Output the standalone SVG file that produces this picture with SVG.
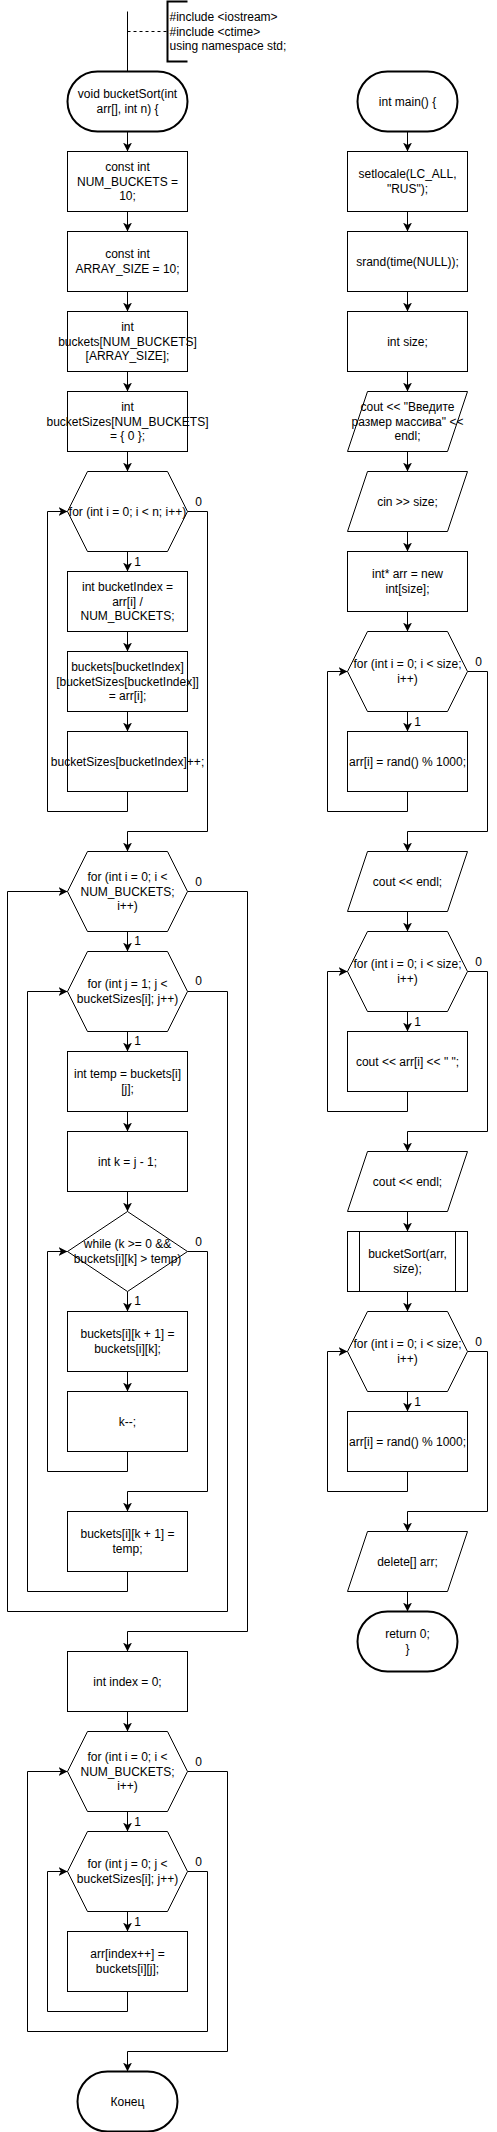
<svg xmlns="http://www.w3.org/2000/svg" width="497" height="2132" viewBox="0 0 497 2132">
<style>
.s{fill:#fff;stroke:#000;stroke-width:1}
.term{fill:#fff;stroke:#000;stroke-width:2}
.t{font-family:"Liberation Sans",Arial,sans-serif;font-size:12px;fill:#000;text-anchor:middle}
.ts{font-family:"Liberation Sans",Arial,sans-serif;font-size:12px;fill:#000;text-anchor:start}
.c{fill:none;stroke:#000;stroke-width:1}
.a{marker-end:url(#arr)}
</style>
<defs>
<marker id="arr" markerUnits="userSpaceOnUse" markerWidth="9" markerHeight="9" viewBox="0 0 8 8" refX="8" refY="4" orient="auto">
<path d="M0,0 L8,4 L0,8 L2.2,4 Z" fill="#000"/>
</marker>
</defs>
<rect width="497" height="2132" fill="#fff"/>
<g transform="translate(0.5,0.5)">
<g id="connectors">
<path class="c" d="M127,11 V71"/>
<path class="c" d="M127,31 H167" stroke-dasharray="3,3"/>
<path class="c a" d="M127,131 V151"/>
<path class="c a" d="M127,211 V231"/>
<path class="c a" d="M127,291 V311"/>
<path class="c a" d="M127,371 V391"/>
<path class="c a" d="M127,451 V471"/>
<path class="c a" d="M127,551 V571"/>
<path class="c a" d="M127,631 V651"/>
<path class="c a" d="M127,711 V731"/>
<path class="c a" d="M127,791 V811 H47 V511 H67"/>
<path class="c a" d="M187,511 H207 V831 H127 V851"/>
<path class="c a" d="M127,931 V951"/>
<path class="c a" d="M127,1031 V1051"/>
<path class="c a" d="M127,1111 V1131"/>
<path class="c a" d="M127,1191 V1211"/>
<path class="c a" d="M127,1291 V1311"/>
<path class="c a" d="M127,1371 V1391"/>
<path class="c a" d="M127,1451 V1471 H47 V1251 H67"/>
<path class="c a" d="M187,1251 H207 V1491 H127 V1511"/>
<path class="c a" d="M127,1571 V1591 H27 V991 H67"/>
<path class="c a" d="M187,991 H227 V1611 H7 V891 H67"/>
<path class="c a" d="M187,891 H247 V1631 H127 V1651"/>
<path class="c a" d="M127,1711 V1731"/>
<path class="c a" d="M127,1811 V1831"/>
<path class="c a" d="M127,1911 V1931"/>
<path class="c a" d="M127,1991 V2011 H47 V1871 H67"/>
<path class="c a" d="M187,1871 H207 V2031 H27 V1771 H67"/>
<path class="c a" d="M187,1771 H227 V2051 H127 V2071"/>
<path class="c a" d="M407,131 V151"/>
<path class="c a" d="M407,211 V231"/>
<path class="c a" d="M407,291 V311"/>
<path class="c a" d="M407,371 V391"/>
<path class="c a" d="M407,451 V471"/>
<path class="c a" d="M407,531 V551"/>
<path class="c a" d="M407,611 V631"/>
<path class="c a" d="M407,711 V731"/>
<path class="c a" d="M407,791 V811 H327 V671 H347"/>
<path class="c a" d="M467,671 H487 V831 H407 V851"/>
<path class="c a" d="M407,911 V931"/>
<path class="c a" d="M407,1011 V1031"/>
<path class="c a" d="M407,1091 V1111 H327 V971 H347"/>
<path class="c a" d="M467,971 H487 V1131 H407 V1151"/>
<path class="c a" d="M407,1211 V1231"/>
<path class="c a" d="M407,1291 V1311"/>
<path class="c a" d="M407,1391 V1411"/>
<path class="c a" d="M407,1471 V1491 H327 V1351 H347"/>
<path class="c a" d="M467,1351 H487 V1511 H407 V1531"/>
<path class="c a" d="M407,1591 V1611"/>
<g class="t">
<text x="198" y="505">0</text><text x="137" y="565">1</text>
<text x="198" y="885">0</text><text x="137" y="944">1</text>
<text x="198" y="984">0</text><text x="137" y="1044">1</text>
<text x="198" y="1245">0</text><text x="137" y="1304">1</text>
<text x="198" y="1765">0</text><text x="137" y="1825">1</text>
<text x="198" y="1865">0</text><text x="137" y="1925">1</text>
<text x="478" y="665">0</text><text x="417" y="725">1</text>
<text x="478" y="965">0</text><text x="417" y="1025">1</text>
<text x="478" y="1345">0</text><text x="417" y="1405">1</text>
</g>
</g>
<g id="includes">
<path d="M187,1 H167 V61 H187" fill="none" stroke="#000" stroke-width="2"/>
<text class="ts" x="169" y="20.6">#include &lt;iostream&gt;</text>
<text class="ts" x="169" y="35">#include &lt;ctime&gt;</text>
<text class="ts" x="169" y="49.4">using namespace std;</text>
</g>
<g id="bucketSortStart"><rect class="term" x="67" y="71" width="120" height="60" rx="30"/><text class="t" x="127" y="97.8">void bucketSort(int<tspan x="127" dy="14.4">arr[], int n) {</tspan></text></g>
<g id="numBuckets"><rect class="s" x="67" y="151" width="120" height="60"/><text class="t" x="127" y="170.6">const int<tspan x="127" dy="14.4">NUM_BUCKETS =</tspan><tspan x="127" dy="14.4">10;</tspan></text></g>
<g id="arraySize"><rect class="s" x="67" y="231" width="120" height="60"/><text class="t" x="127" y="257.8">const int<tspan x="127" dy="14.4">ARRAY_SIZE = 10;</tspan></text></g>
<g id="bucketsDecl"><rect class="s" x="67" y="311" width="120" height="60"/><text class="t" x="127" y="330.6">int<tspan x="127" dy="14.4">buckets[NUM_BUCKETS]</tspan><tspan x="127" dy="14.4">[ARRAY_SIZE];</tspan></text></g>
<g id="bucketSizesDecl"><rect class="s" x="67" y="391" width="120" height="60"/><text class="t" x="127" y="410.6">int<tspan x="127" dy="14.4">bucketSizes[NUM_BUCKETS]</tspan><tspan x="127" dy="14.4">= { 0 };</tspan></text></g>
<g id="loopN"><polygon class="s" points="87,471 167,471 187,511 167,551 87,551 67,511"/><text class="t" x="127" y="515">for (int i = 0; i &lt; n; i++)</text></g>
<g id="bucketIndex"><rect class="s" x="67" y="571" width="120" height="60"/><text class="t" x="127" y="590.6">int bucketIndex =<tspan x="127" dy="14.4">arr[i] /</tspan><tspan x="127" dy="14.4">NUM_BUCKETS;</tspan></text></g>
<g id="bucketAssign"><rect class="s" x="67" y="651" width="120" height="60"/><text class="t" x="127" y="670.6">buckets[bucketIndex]<tspan x="127" dy="14.4">[bucketSizes[bucketIndex]]</tspan><tspan x="127" dy="14.4">= arr[i];</tspan></text></g>
<g id="bucketInc"><rect class="s" x="67" y="731" width="120" height="60"/><text class="t" x="127" y="765">bucketSizes[bucketIndex]++;</text></g>
<g id="loopBuckets"><polygon class="s" points="87,851 167,851 187,891 167,931 87,931 67,891"/><text class="t" x="127" y="880.6">for (int i = 0; i &lt;<tspan x="127" dy="14.4">NUM_BUCKETS;</tspan><tspan x="127" dy="14.4">i++)</tspan></text></g>
<g id="loopJ1"><polygon class="s" points="87,951 167,951 187,991 167,1031 87,1031 67,991"/><text class="t" x="127" y="987.8">for (int j = 1; j &lt;<tspan x="127" dy="14.4">bucketSizes[i]; j++)</tspan></text></g>
<g id="temp"><rect class="s" x="67" y="1051" width="120" height="60"/><text class="t" x="127" y="1077.8">int temp = buckets[i]<tspan x="127" dy="14.4">[j];</tspan></text></g>
<g id="kInit"><rect class="s" x="67" y="1131" width="120" height="60"/><text class="t" x="127" y="1165">int k = j - 1;</text></g>
<g id="whileK"><polygon class="s" points="127,1211 187,1251 127,1291 67,1251"/><text class="t" x="127" y="1247.8">while (k &gt;= 0 &amp;&amp;<tspan x="127" dy="14.4">buckets[i][k] &gt; temp)</tspan></text></g>
<g id="shift"><rect class="s" x="67" y="1311" width="120" height="60"/><text class="t" x="127" y="1337.8">buckets[i][k + 1] =<tspan x="127" dy="14.4">buckets[i][k];</tspan></text></g>
<g id="kDec"><rect class="s" x="67" y="1391" width="120" height="60"/><text class="t" x="127" y="1425">k--;</text></g>
<g id="insertTemp"><rect class="s" x="67" y="1511" width="120" height="60"/><text class="t" x="127" y="1537.8">buckets[i][k + 1] =<tspan x="127" dy="14.4">temp;</tspan></text></g>
<g id="indexInit"><rect class="s" x="67" y="1651" width="120" height="60"/><text class="t" x="127" y="1685">int index = 0;</text></g>
<g id="loopBuckets2"><polygon class="s" points="87,1731 167,1731 187,1771 167,1811 87,1811 67,1771"/><text class="t" x="127" y="1760.6">for (int i = 0; i &lt;<tspan x="127" dy="14.4">NUM_BUCKETS;</tspan><tspan x="127" dy="14.4">i++)</tspan></text></g>
<g id="loopJ0"><polygon class="s" points="87,1831 167,1831 187,1871 167,1911 87,1911 67,1871"/><text class="t" x="127" y="1867.8">for (int j = 0; j &lt;<tspan x="127" dy="14.4">bucketSizes[i]; j++)</tspan></text></g>
<g id="copyBack"><rect class="s" x="67" y="1931" width="120" height="60"/><text class="t" x="127" y="1957.8">arr[index++] =<tspan x="127" dy="14.4">buckets[i][j];</tspan></text></g>
<g id="end"><rect class="term" x="77" y="2071" width="100" height="60" rx="30"/><text class="t" x="127" y="2105">Конец</text></g>

<g id="mainStart"><rect class="term" x="357" y="71" width="100" height="60" rx="30"/><text class="t" x="407" y="105">int main() {</text></g>
<g id="setlocale"><rect class="s" x="347" y="151" width="120" height="60"/><text class="t" x="407" y="177.8">setlocale(LC_ALL,<tspan x="407" dy="14.4">"RUS");</tspan></text></g>
<g id="srand"><rect class="s" x="347" y="231" width="120" height="60"/><text class="t" x="407" y="265">srand(time(NULL));</text></g>
<g id="sizeDecl"><rect class="s" x="347" y="311" width="120" height="60"/><text class="t" x="407" y="345">int size;</text></g>
<g id="prompt"><polygon class="s" points="367,391 467,391 447,451 347,451"/><text class="t" x="407" y="410.6">cout &lt;&lt; "Введите<tspan x="407" dy="14.4">размер массива" &lt;&lt;</tspan><tspan x="407" dy="14.4">endl;</tspan></text></g>
<g id="cinSize"><polygon class="s" points="367,471 467,471 447,531 347,531"/><text class="t" x="407" y="505">cin &gt;&gt; size;</text></g>
<g id="arrNew"><rect class="s" x="347" y="551" width="120" height="60"/><text class="t" x="407" y="577.8">int* arr = new<tspan x="407" dy="14.4">int[size];</tspan></text></g>
<g id="loopFill"><polygon class="s" points="367,631 447,631 467,671 447,711 367,711 347,671"/><text class="t" x="407" y="667.8">for (int i = 0; i &lt; size;<tspan x="407" dy="14.4">i++)</tspan></text></g>
<g id="fill"><rect class="s" x="347" y="731" width="120" height="60"/><text class="t" x="407" y="765">arr[i] = rand() % 1000;</text></g>
<g id="endl1"><polygon class="s" points="367,851 467,851 447,911 347,911"/><text class="t" x="407" y="885">cout &lt;&lt; endl;</text></g>
<g id="loopPrint"><polygon class="s" points="367,931 447,931 467,971 447,1011 367,1011 347,971"/><text class="t" x="407" y="967.8">for (int i = 0; i &lt; size;<tspan x="407" dy="14.4">i++)</tspan></text></g>
<g id="print"><rect class="s" x="347" y="1031" width="120" height="60"/><text class="t" x="407" y="1065">cout &lt;&lt; arr[i] &lt;&lt; " ";</text></g>
<g id="endl2"><polygon class="s" points="367,1151 467,1151 447,1211 347,1211"/><text class="t" x="407" y="1185">cout &lt;&lt; endl;</text></g>
<g id="callSort"><rect class="s" x="347" y="1231" width="120" height="60"/><line class="c" x1="359" y1="1231" x2="359" y2="1291"/><line class="c" x1="455" y1="1231" x2="455" y2="1291"/><text class="t" x="407" y="1257.8">bucketSort(arr,<tspan x="407" dy="14.4">size);</tspan></text></g>
<g id="loopFill2"><polygon class="s" points="367,1311 447,1311 467,1351 447,1391 367,1391 347,1351"/><text class="t" x="407" y="1347.8">for (int i = 0; i &lt; size;<tspan x="407" dy="14.4">i++)</tspan></text></g>
<g id="fill2"><rect class="s" x="347" y="1411" width="120" height="60"/><text class="t" x="407" y="1445">arr[i] = rand() % 1000;</text></g>
<g id="deleteArr"><polygon class="s" points="367,1531 467,1531 447,1591 347,1591"/><text class="t" x="407" y="1565">delete[] arr;</text></g>
<g id="mainEnd"><rect class="term" x="357" y="1611" width="100" height="60" rx="30"/><text class="t" x="407" y="1637.8">return 0;<tspan x="407" dy="14.4">}</tspan></text></g>
</g>
</svg>
